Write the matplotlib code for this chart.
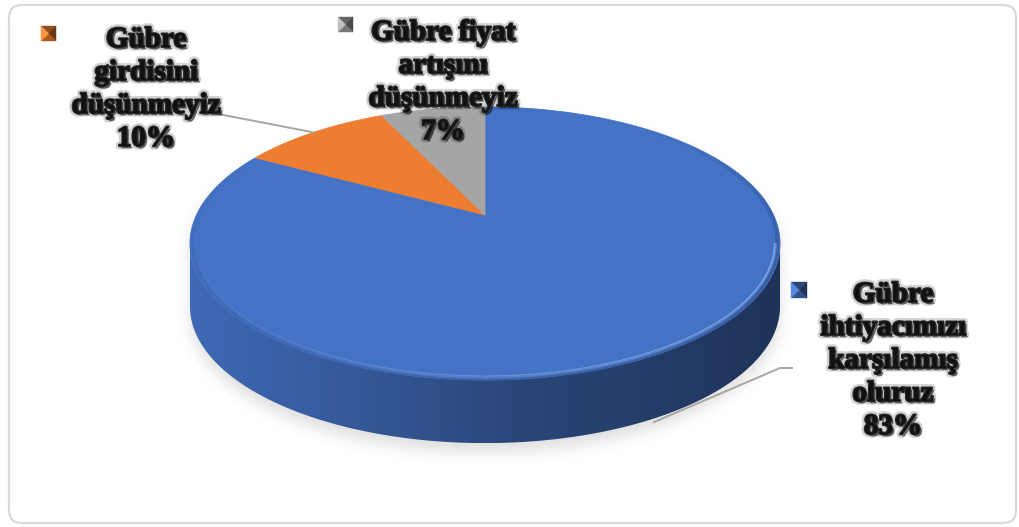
import numpy as np
import matplotlib
matplotlib.use("Agg")
import matplotlib.pyplot as plt
from matplotlib.patches import Polygon, FancyBboxPatch
from matplotlib.path import Path
from matplotlib import patheffects as pe
from matplotlib.collections import LineCollection
from matplotlib.colors import to_rgb

# ---- data ----
categories = [
    "Gübre\nihtiyacımızı\nkarşılamış\noluruz",
    "Gübre\ngirdisini\ndüşünmeyiz",
    "Gübre fiyat\nartışını\ndüşünmeyiz",
]
values = [83, 10, 7]
colors = ["#4472C4", "#ED7D31", "#A5A5A5"]

# ---- canvas in pixel units ----
W, H = 1019, 527
fig = plt.figure(figsize=(W / 100, H / 100), dpi=100)
ax = fig.add_axes([0, 0, 1, 1])
ax.set_xlim(0, W)
ax.set_ylim(H, 0)
ax.axis("off")

frame = FancyBboxPatch((9, 5), 1007, 518, boxstyle="round,pad=0,rounding_size=13",
                       ec="#d9d9d9", fc="white", lw=1.6, zorder=0)
ax.add_patch(frame)

# ---- 3-D pie geometry (perspective-tilted disc) ----
CX, CY = 485, 215
A, B, K = 288.5, 130.6, 0.209
DEPTH = 63


def project(theta_deg, r=1.0):
    t = np.radians(theta_deg)
    u = r * np.sin(t)
    v = r * np.cos(t)
    s = 1.0 / (1.0 + K * v)
    return CX + A * u * s, CY - B * v * s


def arc(t0, t1, r=1.0, n=None):
    n = n or max(int(abs(t1 - t0) * 2), 4)
    th = np.linspace(t0, t1, n)
    x, y = project(th, r)
    return np.column_stack([x, y])


total = float(sum(values))
bounds = np.concatenate([[0.0], np.cumsum(values) / total * 360.0])

# visible front side spans between the silhouette extremes
T_FRONT0 = np.degrees(np.arccos(-K))
T_FRONT1 = 360.0 - T_FRONT0

# ---- soft drop shadow ----
top_outline = arc(0, 360, n=720)
side_outline = np.vstack([arc(T_FRONT0, T_FRONT1), arc(T_FRONT1, T_FRONT0) + [0, DEPTH]])
yy, xx = np.mgrid[0:H, 0:W]
pts = np.column_stack([xx.ravel() + 0.5, yy.ravel() + 0.5 - 9])
mask = (Path(top_outline).contains_points(pts) | Path(side_outline).contains_points(pts)).reshape(H, W).astype(float)
sig = 7.0
kx = np.arange(-25, 26)
ker = np.exp(-kx ** 2 / (2 * sig ** 2))
ker /= ker.sum()
blur = np.apply_along_axis(lambda r: np.convolve(r, ker, mode="same"), 1, mask)
blur = np.apply_along_axis(lambda c: np.convolve(c, ker, mode="same"), 0, blur)
shadow = np.zeros((H, W, 4))
shadow[..., :3] = 0.55
shadow[..., 3] = 0.28 * blur
ax.imshow(shadow, extent=[0, W, H, 0], zorder=1, interpolation="bilinear")

# ---- side walls ----
for i, val in enumerate(values):
    a0, a1 = max(bounds[i], T_FRONT0), min(bounds[i + 1], T_FRONT1)
    if a1 <= a0:
        continue
    top = arc(a0, a1)
    poly = np.vstack([top, top[::-1] + [0, DEPTH]])
    patch = Polygon(poly, closed=True, fc="none", ec="none", zorder=2)
    ax.add_patch(patch)
    base = np.array(to_rgb(colors[i]))
    xs = np.linspace(0, 1, 256)
    fac = np.interp(xs, [0, 0.15, 0.55, 1.0], [0.92, 0.85, 0.62, 0.45])
    grad = (base[None, :] * fac[:, None])[None, :, :]
    grad = np.repeat(grad, 2, axis=0)
    im = ax.imshow(grad, extent=[poly[:, 0].min(), poly[:, 0].max(),
                                 poly[:, 1].max(), poly[:, 1].min()],
                   aspect="auto", zorder=2, interpolation="bilinear")
    im.set_clip_path(patch)

# ---- top face wedges ----
for i, val in enumerate(values):
    pts_w = np.vstack([[CX, CY], arc(bounds[i], bounds[i + 1])])
    ax.add_patch(Polygon(pts_w, closed=True, fc=colors[i], ec=colors[i], lw=0.6, zorder=3))

# bevel highlight along the front rim
rim = arc(T_FRONT0, T_FRONT1, r=0.985, n=300)
segs = np.stack([rim[:-1], rim[1:]], axis=1)
alphas = np.interp(np.linspace(0, 1, len(segs)), [0, 0.35, 0.7, 1.0], [0.8, 0.7, 0.25, 0.0])
lc = LineCollection(segs, colors=[(0.55, 0.72, 0.98, a) for a in alphas], lw=2.2, zorder=4)
ax.add_collection(lc)
# darker edge falloff on the right of the top face
rim2 = arc(40, T_FRONT1 + 40, r=0.992, n=300)
segs2 = np.stack([rim2[:-1], rim2[1:]], axis=1)
a2 = np.interp(np.linspace(0, 1, len(segs2)), [0, 0.3, 0.6, 1.0], [0.0, 0.35, 0.2, 0.0])
ax.add_collection(LineCollection(segs2, colors=[(0.1, 0.2, 0.4, a) for a in a2], lw=3, zorder=4))

# ---- data labels ----
label_x = [893, 146, 443]
label_base = [302, 47, 40]
LINE_PX = 33
marker_box = [(791, 282, 16), (41, 26, 15), (338, 17, 15)]

txt_fx = [
    pe.Stroke(linewidth=5, foreground="black", alpha=0.18),
    pe.SimplePatchShadow(offset=(1.6, -1.6), shadow_rgbFace="black", alpha=0.55),
    pe.Stroke(linewidth=1.6, foreground="#2a2a2a"),
    pe.Normal(),
]

for i, val in enumerate(values):
    lines = categories[i].split("\n") + [f"{val}%"]
    for j, line in enumerate(lines):
        ax.text(label_x[i], label_base[i] + j * LINE_PX, line, ha="center", va="baseline",
                fontsize=21, fontweight="bold", family=["Liberation Serif", "DejaVu Serif"],
                color="#111111", path_effects=txt_fx, zorder=6)
    # bevelled legend key (pyramid facets: top, right, bottom, left)
    mx, my, ms = marker_box[i]
    c = np.array(to_rgb(colors[i]))
    cxm, cym = mx + ms / 2, my + ms / 2
    corners = [(mx, my), (mx + ms, my), (mx + ms, my + ms), (mx, my + ms)]
    shades = [np.clip(c * 0.62, 0, 1), np.clip(c * 0.45, 0, 1),
              np.clip(c * 0.72, 0, 1), np.clip(c * 1.08 + 0.05, 0, 1)]
    for k in range(4):
        tri = [corners[k], corners[(k + 1) % 4], (cxm, cym)]
        ax.add_patch(Polygon(tri, closed=True, fc=shades[k], ec=shades[k], lw=0.3, zorder=6))

# ---- leader lines ----
mid_orange = (bounds[1] + bounds[2]) / 2
ox, oy = project(mid_orange)
ax.plot([213, ox], [113, oy], color="#a6a6a6", lw=1.4, zorder=5)
mid_blue = (bounds[0] + bounds[1]) / 2
bx, by = project(mid_blue)
ax.plot([bx - 10, 780, 792], [by + DEPTH + 7, 368, 368], color="#a6a6a6", lw=1.4, zorder=5)

fig.savefig("out.png", dpi=100)
